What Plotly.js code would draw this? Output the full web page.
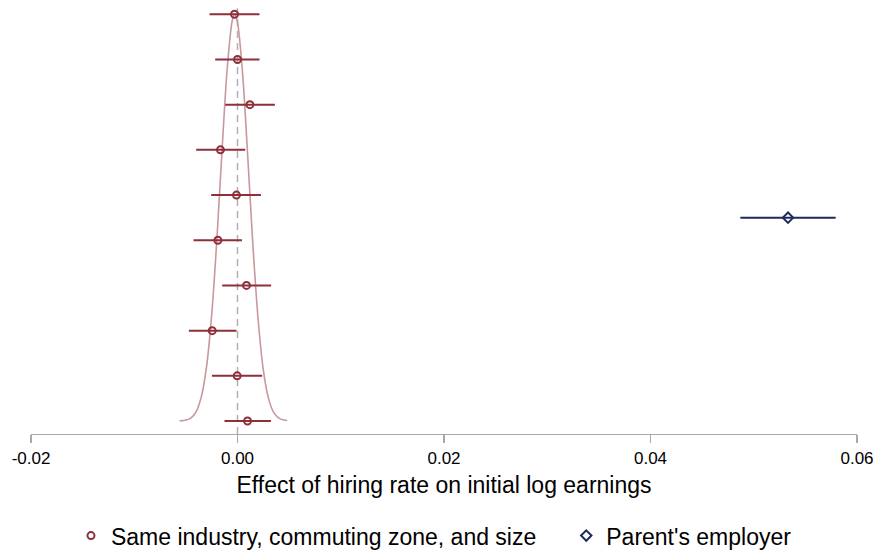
<!DOCTYPE html>
<html>
<head>
<meta charset="utf-8">
<script src="https://cdn.plot.ly/plotly-3.0.1.min.js"></script>
<style>html,body{margin:0;padding:0;background:#fff;}#chart{width:876px;height:552px;}</style>
</head>
<body>
<div id="chart"></div>
<script>
// Same industry, commuting zone, and size (top to bottom)
const redRows = [10, 9, 8, 7, 6, 5, 4, 3, 2, 1];
const redEst  = [-0.00029, 0.00000, 0.00120, -0.00165, -0.00010, -0.00190, 0.00087, -0.00245, -0.00003, 0.00097];
const redLo   = [-0.00271, -0.00216, -0.00119, -0.00400, -0.00255, -0.00426, -0.00148, -0.00471, -0.00248, -0.00126];
const redHi   = [0.00213, 0.00213, 0.00362, 0.00075, 0.00227, 0.00043, 0.00326, -0.00010, 0.00239, 0.00324];

// Parent's employer
const blueRows = [5.5];
const blueEst  = [0.05332];
const blueLo   = [0.04870];
const blueHi   = [0.05793];

// Density curve
const curveX = [-0.0056, -0.0050, -0.0045, -0.0040, -0.0035, -0.0030, -0.0025, -0.0020, -0.0015, -0.0010, -0.0005, -0.00027, 0.0000, 0.0005, 0.0010, 0.0015, 0.0020, 0.0025, 0.0030, 0.0035, 0.0040, 0.0045, 0.0048];
const curveY = [1.004, 1.02, 1.07, 1.21, 1.54, 2.20, 3.35, 5.01, 6.98, 8.79, 9.87, 10.0, 9.82, 8.67, 6.82, 4.86, 3.24, 2.13, 1.50, 1.19, 1.065, 1.02, 1.01];

const tickVals = [-0.02, 0, 0.02, 0.04, 0.06];
const tickText = ['-0.02', '0.00', '0.02', '0.04', '0.06'];

const redColor = '#8f2f3a';
const blueColor = '#1c2b5a';
const curveColor = '#c8989c';
const axisGrey = '#a8a8a8';

const plus = (hi, est) => hi.map((h, i) => h - est[i]);
const minus = (lo, est) => lo.map((l, i) => est[i] - l);

const traces = [
  {
    x: curveX, y: curveY, type: 'scatter', mode: 'lines',
    line: {color: curveColor, width: 1.6, shape: 'spline', smoothing: 0.8},
    showlegend: false, hoverinfo: 'skip'
  },
  {
    x: redEst, y: redRows, type: 'scatter', mode: 'markers',
    name: 'Same industry, commuting zone, and size',
    marker: {symbol: 'circle-open', size: 7, color: redColor, line: {width: 2, color: redColor}},
    error_x: {type: 'data', array: plus(redHi, redEst), arrayminus: minus(redLo, redEst),
              color: redColor, thickness: 2, width: 0},
    legend: 'legend'
  },
  {
    x: blueEst, y: blueRows, type: 'scatter', mode: 'markers',
    name: "Parent's employer",
    marker: {symbol: 'diamond-open', size: 8, color: blueColor, line: {width: 2, color: blueColor}},
    error_x: {type: 'data', array: plus(blueHi, blueEst), arrayminus: minus(blueLo, blueEst),
              color: blueColor, thickness: 2, width: 0},
    legend: 'legend2'
  }
];

const layout = {
  width: 876, height: 552,
  margin: {l: 31, r: 19.3, t: 4, b: 117.7, autoexpand: false},
  paper_bgcolor: '#ffffff', plot_bgcolor: '#ffffff',
  font: {family: '"Liberation Sans", Arial, Helvetica, sans-serif', color: '#000', size: 17},
  showlegend: true,
  xaxis: {
    range: [-0.02, 0.06], tickvals: tickVals, ticktext: tickText,
    showgrid: false, zeroline: false, showline: true, linecolor: axisGrey, linewidth: 1.2,
    ticks: 'outside', ticklen: 8, tickcolor: axisGrey, tickwidth: 1.2,
    tickfont: {size: 17, color: '#000'}, automargin: false,
    title: {text: 'Effect of hiring rate on initial log earnings', font: {size: 23, color: '#000'}, standoff: 10},
    fixedrange: true
  },
  yaxis: {
    range: [0.7125, 10.228], showgrid: false, zeroline: false, showline: false,
    showticklabels: false, ticks: '', fixedrange: true, automargin: false
  },
  shapes: [{
    type: 'line', xref: 'x', yref: 'paper', x0: 0, x1: 0, y0: 0, y1: 0.99,
    line: {color: '#b0b0b0', width: 1.5, dash: '7px,5px'}, layer: 'below'
  }],
  legend: {
    x: 0.0484, xanchor: 'left', y: -0.2363, yanchor: 'middle', orientation: 'h',
    font: {size: 23, color: '#000'}, bgcolor: 'rgba(0,0,0,0)', itemsizing: 'trace'
  },
  legend2: {
    x: 0.6480, xanchor: 'left', y: -0.2363, yanchor: 'middle', orientation: 'h',
    font: {size: 23, color: '#000'}, bgcolor: 'rgba(0,0,0,0)', itemsizing: 'trace'
  }
};

Plotly.newPlot('chart', traces, layout, {displayModeBar: false, staticPlot: true});
</script>
</body>
</html>
